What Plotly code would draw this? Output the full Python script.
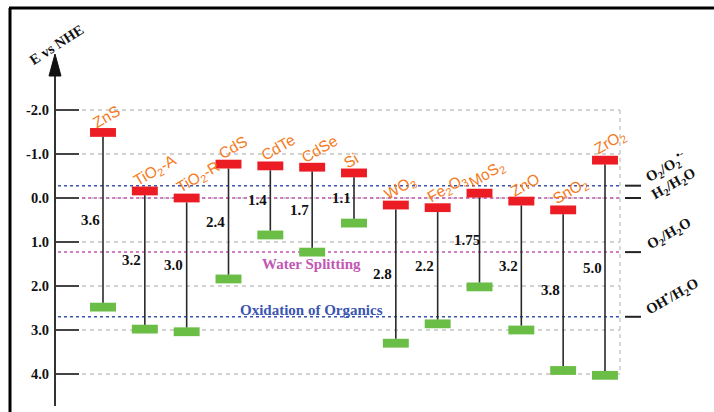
import re
import plotly.graph_objects as go

# ---------------- data ----------------
materials = ["ZnS", "TiO<sub>2</sub>-A", "TiO<sub>2</sub>-R", "CdS", "CdTe", "CdSe", "Si",
             "WO<sub>3</sub>", "Fe<sub>2</sub>O<sub>3</sub>", "MoS<sub>2</sub>", "ZnO",
             "SnO<sub>2</sub>", "ZrO<sub>2</sub>"]
cb_edge = [-1.49, -0.16, 0.00, -0.77, -0.73, -0.70, -0.57, 0.16, 0.22, -0.11, 0.07, 0.27, -0.86]
vb_edge = [2.48, 2.98, 3.04, 1.84, 0.84, 1.23, 0.57, 3.30, 2.86, 2.02, 3.00, 3.92, 4.03]
gap_labels = ["3.6", "3.2", "3.0", "2.4", "1.4", "1.7", "1.1", "2.8", "2.2", "1.75", "3.2", "3.8", "5.0"]

levels = [-0.28, 0.0, 1.23, 2.7]
level_names = ["O<sub>2</sub>/O<sub>2</sub><sup>•-</sup>", "H<sub>2</sub>/H<sub>2</sub>O",
               "O<sub>2</sub>/H<sub>2</sub>O", "OH<sup>•</sup>/H<sub>2</sub>O"]
region_names = ["Water Splitting", "Oxidation of Organics"]
region_levels = [1.5, 2.55]

y_ticks = [-2, -1, 0, 1, 2, 3, 4]
y_tick_labels = ["-2.0", "-1.0", "0.0", "1.0", "2.0", "3.0", "4.0"]

# ---------------- styles ----------------
W, H = 714, 412
RED = "#ec1c24"
GREEN = "#6abd45"
ORANGE = "#f47b1c"
BLUE = "#3a55b0"
PINK = "#c257b4"
SERIF = "Liberation Serif"
SANS = "Liberation Sans"
LABEL_SIZE = 15.5
BAR_H = 0.2     # bar thickness in eV units
BAR_W = 0.62    # bar width in category units

# approximate Arial advance widths (em) used to centre the rotated labels
CHAR_W = {"Z": .611, "n": .556, "S": .667, "T": .611, "i": .222, "O": .778, "-": .333,
          "A": .667, "R": .722, "C": .722, "d": .556, "e": .556, "s": .5, "W": .944,
          "F": .611, "M": .833, "o": .556, "r": .333}


def text_len(label, size):
    total = 0.0
    for m in re.finditer(r"<sub>(.*?)</sub>|[^<]+", label):
        if m.group(1) is not None:
            total += sum(CHAR_W.get(c, 0.556) for c in m.group(1)) * 0.7
        else:
            total += sum(CHAR_W.get(c, 0.556) for c in m.group(0))
    return total * size


def px(x):
    return x / W


def py(y):
    return 1 - y / H


n = len(materials)
idx = list(range(n))

fig = go.Figure()

# connectors (between the inner edges of the CB and VB bars)
lx, ly = [], []
for i in idx:
    lx += [i, i, None]
    ly += [cb_edge[i] + BAR_H / 2, vb_edge[i] - BAR_H / 2, None]
fig.add_trace(go.Scatter(x=lx, y=ly, mode="lines", line=dict(color="#2a2a2a", width=1.6),
                         hoverinfo="skip"))

# CB bars (red) and VB bars (green)
fig.add_trace(go.Bar(x=idx, y=[BAR_H] * n, base=[c - BAR_H / 2 for c in cb_edge],
                     width=BAR_W, marker=dict(color=RED, line=dict(width=0)), name="CB"))
fig.add_trace(go.Bar(x=idx, y=[BAR_H] * n, base=[v - BAR_H / 2 for v in vb_edge],
                     width=BAR_W, marker=dict(color=GREEN, line=dict(width=0)), name="VB"))

shapes = []
# gray dashed grid
for t in y_ticks:
    shapes.append(dict(type="line", xref="paper", yref="y", x0=px(82), x1=px(620), y0=t, y1=t,
                       line=dict(color="#c4c4c4", width=1.3, dash="4px,4px"), layer="below"))
shapes.append(dict(type="line", xref="paper", yref="y", x0=px(620), x1=px(620),
                   y0=y_ticks[0], y1=y_ticks[-1],
                   line=dict(color="#c4c4c4", width=1.3, dash="4px,4px"), layer="below"))
# redox levels
level_colors = [BLUE, PINK, PINK, BLUE]
for lv, col in zip(levels, level_colors):
    shapes.append(dict(type="line", xref="paper", yref="y", x0=px(58), x1=px(620), y0=lv, y1=lv,
                       line=dict(color=col, width=1.5, dash="3px,3px"), layer="below"))
    shapes.append(dict(type="line", xref="paper", yref="y", x0=px(625), x1=px(641), y0=lv, y1=lv,
                       line=dict(color="#222", width=2)))
# vertical axis line + arrowhead
shapes.append(dict(type="line", xref="paper", yref="paper", x0=px(55), x1=px(55),
                   y0=py(406), y1=py(72), line=dict(color="#333", width=2)))
shapes.append(dict(type="path", xref="paper", yref="paper",
                   path=f"M {px(49)} {py(76)} L {px(61)} {py(76)} L {px(55)} {py(54)} Z",
                   fillcolor="#111", line=dict(color="#111", width=1)))
# outer frame (top and left)
shapes.append(dict(type="line", xref="paper", yref="paper", x0=px(9), x1=1, y0=py(8), y1=py(8),
                   line=dict(color="#000", width=3)))
shapes.append(dict(type="line", xref="paper", yref="paper", x0=px(10), x1=px(10), y0=py(8), y1=0,
                   line=dict(color="#000", width=3)))

ann = []
# material labels (rotated, centred along their own direction above each CB bar)
for i in idx:
    L = text_len(materials[i], LABEL_SIZE)
    ann.append(dict(x=i, y=cb_edge[i], xref="x", yref="y", text=materials[i], showarrow=False,
                    textangle=-30, xanchor="center", yanchor="middle",
                    xshift=-9 + 0.433 * L, yshift=9 + 0.25 * L,
                    font=dict(family=SANS, size=LABEL_SIZE, color=ORANGE)))
# gap labels
for i in idx:
    ann.append(dict(x=i, y=(cb_edge[i] + vb_edge[i]) / 2, xref="x", yref="y",
                    text=f"<b>{gap_labels[i]}</b>", showarrow=False, xshift=-13,
                    xanchor="center", yanchor="middle",
                    font=dict(family=SERIF, size=15, color="#111")))
# level labels on the right
lvl_x = [639, 646, 641, 639]
lvl_dy = [-4, -9, -4, -5]
for lv, name, lx_, dy in zip(levels, level_names, lvl_x, lvl_dy):
    ann.append(dict(x=px(lx_), y=lv, xref="paper", yref="y", text=f"<b>{name}</b>",
                    showarrow=False, textangle=-30, xanchor="left", yanchor="bottom", yshift=dy,
                    font=dict(family=SERIF, size=14.5, color="#111")))
# region labels
for name, lv, col in zip(region_names, region_levels, [PINK, BLUE]):
    ann.append(dict(x=px(311), y=lv, xref="paper", yref="y", text=f"<b>{name}</b>",
                    showarrow=False, xanchor="center", yanchor="middle",
                    font=dict(family=SERIF, size=15, color=col)))
# axis title
ann.append(dict(x=px(56), y=py(45), xref="paper", yref="paper", text="<b>E vs NHE</b>",
                showarrow=False, textangle=-33, xanchor="center", yanchor="middle",
                font=dict(family=SERIF, size=14.5, color="#111")))

fig.update_layout(
    width=W, height=H, margin=dict(l=0, r=0, t=0, b=0),
    paper_bgcolor="white", plot_bgcolor="white", showlegend=False, barmode="overlay",
    shapes=shapes, annotations=ann,
    xaxis=dict(range=[-103 / 41.833, (W - 103) / 41.833], visible=False, domain=[0, 1]),
    yaxis=dict(range=[214 / 44, -198 / 44], anchor="free", position=px(55), side="left",
               tickvals=y_ticks, ticktext=y_tick_labels, ticks="inside", ticklen=23,
               tickwidth=2, tickcolor="#444", showgrid=False, zeroline=False, showline=False,
               ticklabelstandoff=6, automargin=False,
               tickfont=dict(family=SERIF, size=14.5, color="#111", weight="bold")),
)

fig.write_html("out.html", config={"displayModeBar": False},
               post_script="document.body.style.margin='0';document.body.style.padding='0';")
